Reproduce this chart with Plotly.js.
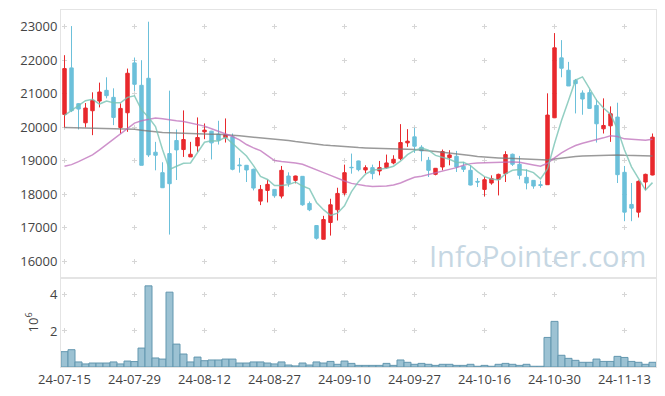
<!DOCTYPE html>
<html><head><meta charset="utf-8">
<script src="https://cdn.plot.ly/plotly-3.0.1.min.js"></script>
<style>html,body{margin:0;padding:0;background:#fff}#chart{width:665px;height:396px}</style>
</head><body><div id="chart"></div>
<script>
// Trading days (YY-MM-DD)
const dates = ['24-07-15','24-07-16','24-07-17','24-07-18','24-07-19','24-07-22','24-07-23','24-07-24','24-07-25','24-07-26',
'24-07-29','24-07-30','24-07-31','24-08-01','24-08-02','24-08-05','24-08-06','24-08-07','24-08-08','24-08-09',
'24-08-12','24-08-13','24-08-14','24-08-16','24-08-19','24-08-20','24-08-21','24-08-22','24-08-23','24-08-26',
'24-08-27','24-08-28','24-08-29','24-08-30','24-09-02','24-09-03','24-09-04','24-09-05','24-09-06','24-09-09',
'24-09-10','24-09-11','24-09-12','24-09-13','24-09-19','24-09-20','24-09-23','24-09-24','24-09-25','24-09-26',
'24-09-27','24-09-30','24-10-02','24-10-04','24-10-07','24-10-08','24-10-10','24-10-11','24-10-14','24-10-15',
'24-10-16','24-10-17','24-10-18','24-10-21','24-10-22','24-10-23','24-10-24','24-10-25','24-10-28','24-10-29',
'24-10-30','24-10-31','24-11-01','24-11-04','24-11-05','24-11-06','24-11-07','24-11-08','24-11-11','24-11-12',
'24-11-13','24-11-14','24-11-15','24-11-18','24-11-19'];

const openP = [20380,21770,20700,20130,20490,20780,21100,20890,19990,20430,
21920,21250,21460,19250,18640,19210,19600,19330,19110,19440,
19860,19880,19790,19690,19710,18870,18860,18740,17790,18110,
18140,17940,18540,18410,18530,17720,17060,16650,17150,17530,
18030,18800,18990,18720,18790,18690,18790,18930,19060,19530,
19710,19400,19010,18590,18810,19090,19130,18830,18710,18380,
18140,18330,18440,18610,19190,18890,18500,18410,18280,18280,
20280,22070,21700,21400,21020,21030,20650,19950,20040,20300,
18650,17690,17460,18360,18570];

const highP = [22150,23020,20720,20720,21040,21330,21490,21160,20710,21750,
22080,22000,23150,19560,18950,21090,19930,20500,19560,20290,
20110,19890,20190,20260,19810,19080,18870,18760,18270,18430,
18150,18840,18650,18550,18540,17780,17070,17350,17860,18190,
18880,19210,19000,18860,18880,18990,19180,19160,20090,19940,
19980,19460,19110,18780,19330,19310,19290,18960,18860,18480,
18510,18560,18610,19280,19210,19140,18740,18420,18400,21010,
22810,22600,21950,21440,21100,21130,20830,20860,20620,20730,
18840,18330,18410,18610,19810];

const lowP = [19990,20450,19930,19990,19760,20590,20860,20060,19810,19860,
21080,18860,19110,18710,18180,16790,18420,19110,19110,19260,
19640,19035,19480,19540,18710,18640,18360,18110,17670,17750,
17890,17870,18220,18320,17650,17490,16640,16650,16760,17210,
17960,18610,18680,18620,18440,18560,18760,18890,19010,19410,
19230,18980,18510,18560,18710,18860,18660,18660,18260,18210,
17930,18280,17960,18360,18840,18440,18140,18160,18190,18280,
20270,21490,21230,20410,20370,20550,19540,19810,19560,18330,
17190,17190,17300,18120,18560];

const closeP = [21750,20490,20540,20570,20800,21050,20940,20290,20560,21610,
21280,18860,19170,19160,18190,18310,19320,19630,19190,19690,
19910,19530,19610,19770,18740,18850,18720,18180,18140,18290,
17950,18710,18320,18540,17680,17530,16680,17240,17680,18020,
18640,18790,18730,18790,18610,18790,18930,19040,19540,19580,
19430,19290,18710,18770,19270,19170,18810,18740,18270,18360,
18430,18460,18590,19180,18890,18560,18330,18240,18260,20360,
22370,21760,21230,21300,20840,20560,20100,20050,20400,18580,
17460,17580,18380,18590,19700];

// Volume, in units of 10^6 shares
const volume = [0.85,0.96,0.28,0.17,0.22,0.22,0.22,0.28,0.17,0.33,
0.30,1.05,4.50,0.50,0.44,4.15,1.27,0.72,0.28,0.55,
0.35,0.39,0.39,0.44,0.44,0.22,0.22,0.28,0.28,0.22,
0.17,0.28,0.11,0.06,0.22,0.11,0.28,0.22,0.31,0.15,
0.33,0.20,0.09,0.09,0.09,0.09,0.20,0.09,0.39,0.26,
0.15,0.20,0.15,0.09,0.15,0.15,0.09,0.09,0.15,0.04,
0.09,0.04,0.15,0.20,0.15,0.09,0.15,0.04,0.04,1.64,
2.53,0.65,0.48,0.37,0.26,0.26,0.44,0.31,0.31,0.59,
0.53,0.31,0.26,0.15,0.26];

// Moving averages as drawn
const ma5 = [20350,20500,20650,20790,20830,20690,20780,20730,20728,20890,
20936,20520,20296,20016,19332,18738,18830,18922,18928,19228,
19548,19590,19586,19702,19512,19300,19138,18852,18526,18436,
18256,18254,18282,18362,18240,18156,17750,17534,17362,17430,
17652,18074,18372,18594,18712,18742,18770,18832,18982,19176,
19304,19376,19310,19156,19094,19042,18946,18952,18852,18670,
18522,18452,18422,18604,18710,18736,18710,18640,18456,18750,
19512,20198,20796,21404,21500,21138,20806,20570,20390,19938,
19318,18814,18480,18118,18342];

const ma20 = [18830,18880,18970,19060,19170,19320,19480,19650,19790,19960,
20120,20190,20240,20270,20250,20210,20190,20170,20130,20090,
20030,19950,19880,19800,19720,19620,19480,19380,19300,19150,
19000,18970,18960,18930,18890,18800,18720,18640,18560,18470,
18390,18320,18280,18250,18230,18230,18240,18270,18330,18420,
18500,18530,18580,18620,18670,18720,18790,18860,18910,18930,
18940,18950,18960,18960,18960,18950,18920,18870,18830,18920,
19080,19230,19350,19450,19520,19570,19610,19680,19740,19720,
19650,19630,19620,19610,19640];

const ma60 = [19990,19985,19980,19975,19970,19965,19960,19955,19950,19945,
19935,19910,19880,19860,19840,19830,19820,19810,19805,19800,
19795,19790,19785,19775,19760,19740,19720,19700,19685,19670,
19655,19630,19600,19570,19540,19510,19490,19470,19450,19430,
19410,19400,19390,19380,19370,19360,19355,19350,19345,19340,
19335,19320,19300,19270,19250,19230,19200,19170,19150,19120,
19100,19090,19080,19070,19060,19050,19040,19030,19010,19020,
19050,19080,19100,19120,19140,19150,19160,19170,19180,19170,
19160,19150,19145,19140,19140];

const tickDates = ['24-07-15','24-07-29','24-08-12','24-08-27','24-09-10','24-09-27','24-10-16','24-10-30','24-11-13'];
const priceTicks = [16000,17000,18000,19000,20000,21000,22000,23000];
const volTicks = [2,4];

const UP = '#e8292d', DOWN = '#6cc0da';
const GRID = '#d6d6d6', FRAME = '#e4e4e4';
const FONT = 'Open Sans, sans-serif';

const traces = [
  {type:'candlestick', x:dates, open:openP, high:highP, low:lowP, close:closeP,
   xaxis:'x', yaxis:'y', whiskerwidth:0,
   increasing:{line:{color:UP,width:1}, fillcolor:UP},
   decreasing:{line:{color:DOWN,width:1}, fillcolor:DOWN},
   showlegend:false, hoverinfo:'skip'},
  {type:'scatter', mode:'lines', x:dates, y:ma60, xaxis:'x', yaxis:'y',
   line:{color:'rgba(120,120,120,0.75)', width:1.5}, showlegend:false, hoverinfo:'skip'},
  {type:'scatter', mode:'lines', x:dates, y:ma20, xaxis:'x', yaxis:'y',
   line:{color:'rgba(190,110,185,0.75)', width:1.5}, showlegend:false, hoverinfo:'skip'},
  {type:'scatter', mode:'lines', x:dates, y:ma5, xaxis:'x', yaxis:'y',
   line:{color:'rgba(120,195,180,0.8)', width:1.5}, showlegend:false, hoverinfo:'skip'},
  {type:'bar', x:dates, y:volume, xaxis:'x2', yaxis:'y2',
   marker:{color:'#9cc2d3', line:{color:'#6397af', width:1}},
   showlegend:false, hoverinfo:'skip'}
];

const layout = {
  width:665, height:396,
  margin:{l:61, r:9, t:10, b:29},
  paper_bgcolor:'#fff', plot_bgcolor:'#fff',
  font:{family:FONT, size:13, color:'#444'},
  showlegend:false, bargap:0,
  xaxis:{type:'category', domain:[0,1], anchor:'y', matches:'x2', range:[-0.5,84.5],
         rangeslider:{visible:false}, showticklabels:false, ticks:'',
         tickmode:'array', tickvals:tickDates,
         showgrid:true, gridcolor:GRID, gridwidth:1, griddash:'0px,14.23px,5px,14.24px',
         showline:true, linecolor:FRAME, linewidth:1, mirror:true, zeroline:false},
  yaxis:{domain:[0.25,1], anchor:'x', range:[15500,23500], tickmode:'array', tickvals:priceTicks,
         tickformat:'d',
         ticks:'', showgrid:true, gridcolor:GRID, gridwidth:1, griddash:'0px,1px,5px,64px',
         showline:true, linecolor:FRAME, linewidth:1, mirror:true, zeroline:false,
         tickfont:{size:13, color:'#444'}},
  xaxis2:{type:'category', domain:[0,1], anchor:'y2', range:[-0.5,84.5], ticks:'',
          tickmode:'array', tickvals:tickDates, ticktext:tickDates, tickangle:0,
          tickfont:{size:13, color:'#444'},
          showgrid:true, gridcolor:GRID, gridwidth:1, griddash:'0px,14.63px,5px,16.43px',
          showline:true, linecolor:FRAME, linewidth:1, mirror:true, zeroline:false},
  yaxis2:{domain:[0,0.25], anchor:'x2', range:[0,4.95], tickmode:'array', tickvals:volTicks,
          tickformat:'d',
          ticks:'', showgrid:true, gridcolor:GRID, gridwidth:1, griddash:'0px,1px,5px,64px',
          showline:true, linecolor:FRAME, linewidth:1, mirror:true, zeroline:false,
          tickfont:{size:13, color:'#444'},
          title:{text:'10<sup>6</sup>', font:{size:13, color:'#444'}, standoff:8}},
  annotations:[{xref:'paper', yref:'paper', x:0.987, y:0.312, xanchor:'right', yanchor:'middle',
    text:'InfoPointer.com', showarrow:false,
    font:{family:FONT, size:29, color:'#c6d7e3'}}]
};

Plotly.newPlot('chart', traces, layout, {staticPlot:true, displayModeBar:false});
</script></body></html>
